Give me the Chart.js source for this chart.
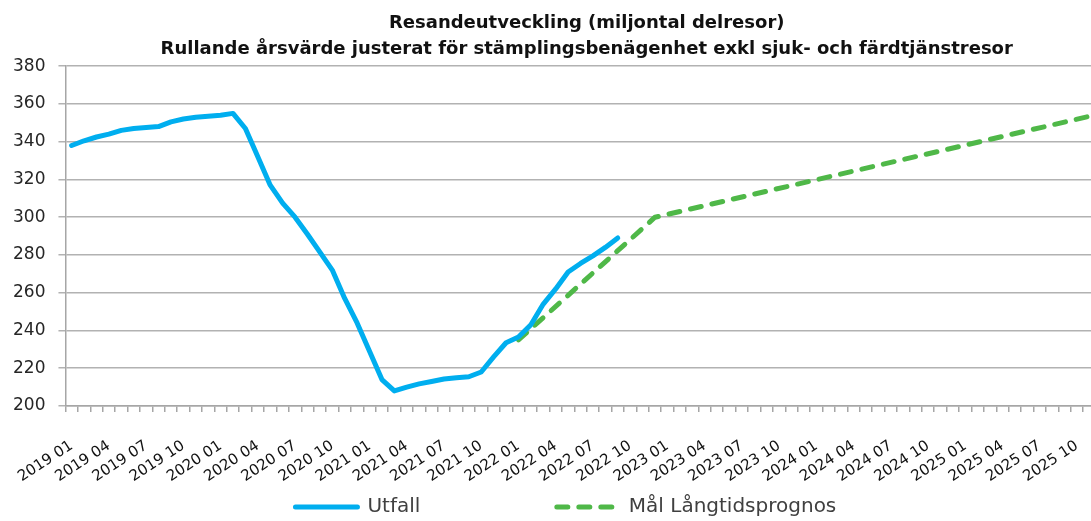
<!DOCTYPE html>
<html>
<head>
<meta charset="utf-8">
<script src="https://cdn.jsdelivr.net/npm/chart.js@4/dist/chart.umd.min.js"></script>
<style>
  html, body { margin: 0; padding: 0; background: #fff; overflow: hidden; }
  #wrap { width: 1091px; height: 521px; overflow: hidden; }
</style>
</head>
<body>
<div id="wrap"><canvas id="resChart" width="1166" height="521"></canvas></div>
<script>
// categories: every month from 2019 01 to 2025 12
var years = ['2019', '2020', '2021', '2022', '2023', '2024', '2025'];
var months = ['01', '02', '03', '04', '05', '06', '07', '08', '09', '10', '11', '12'];

// Utfall, 2019 01 .. 2022 09 (miljontal delresor)
var utfall = [
  338, 340.5, 342.5, 344, 346, 347, 347.5, 348, 350.5, 352, 353, 353.5,
  354, 355, 347, 332, 317, 307.5, 300, 291, 281.5, 272, 257, 244,
  229, 214, 208, 210, 211.7, 213, 214.3, 215, 215.5, 218, 226, 233.5,
  236.5, 243, 254, 262, 271, 275.5, 279.5, 284, 289
];

// Mål Långtidsprognos, key points only (straight segments between them)
var malPoints = { '2022 01': 235, '2022 12': 300, '2025 12': 355 };

var labels = [];
years.forEach(function (y) {
  months.forEach(function (m) { labels.push(y + ' ' + m); });
});

var malData = labels.map(function (l) {
  return malPoints[l] !== undefined ? malPoints[l] : null;
});
var utfallData = labels.map(function (l, i) {
  return i < utfall.length ? utfall[i] : null;
});

var blue = '#00aeef';
var green = '#4fb848';
var gridColor = '#b2b2b2';

// invisible legend entry, only used to push the real entries into place
function spacer(n) {
  return {
    text: new Array(n + 1).join(' '),
    fillStyle: 'rgba(0,0,0,0)',
    strokeStyle: 'rgba(0,0,0,0)',
    lineWidth: 0,
    pointStyle: 'line',
    hidden: false
  };
}

var ctx = document.getElementById('resChart').getContext('2d');
var chart = new Chart(ctx, {
  type: 'line',
  data: {
    labels: labels,
    datasets: [{
      label: 'Utfall',
      data: utfallData,
      borderColor: blue,
      backgroundColor: blue,
      borderWidth: 5,
      borderJoinStyle: 'round',
      borderCapStyle: 'round',
      pointRadius: 0,
      fill: false,
      tension: 0,
      spanGaps: false
    }, {
      label: 'Mål Långtidsprognos',
      data: malData,
      borderColor: green,
      backgroundColor: green,
      borderWidth: 5,
      borderDash: [11, 11],
      borderJoinStyle: 'round',
      borderCapStyle: 'round',
      pointRadius: 0,
      fill: false,
      tension: 0,
      spanGaps: true
    }]
  },
  options: {
    responsive: false,
    animation: false,
    layout: {
      padding: { left: 0, right: 58, top: 0, bottom: -6 }
    },
    plugins: {
      title: {
        display: true,
        fullSize: false,
        text: ['Resandeutveckling (miljontal delresor)',
               'Rullande årsvärde justerat för stämplingsbenägenhet exkl sjuk- och färdtjänstresor'],
        color: '#111',
        font: { family: 'DejaVu Sans', size: 18, weight: 'bold', lineHeight: 1.45 },
        padding: { top: 10, bottom: 4 }
      },
      legend: {
        display: true,
        position: 'bottom',
        align: 'start',
        labels: {
          usePointStyle: true,
          pointStyle: 'line',
          pointStyleWidth: 62,
          color: '#404040',
          font: { family: 'DejaVu Sans', size: 20 },
          padding: 10,
          generateLabels: function (chart) {
            var ds = chart.data.datasets;
            var items = ds.map(function (d, i) {
              return {
                text: d.label,
                fillStyle: d.borderColor,
                strokeStyle: d.borderColor,
                lineWidth: d.borderWidth,
                lineDash: d.borderDash || [],
                lineCap: 'round',
                pointStyle: 'line',
                fontColor: '#404040',
                hidden: false,
                datasetIndex: i
              };
            });
            return [spacer(32), items[0], spacer(7), items[1]];
          }
        },
        onClick: function () {}
      },
      tooltip: { enabled: false }
    },
    scales: {
      x: {
        offset: true,
        afterFit: function (scale) {
          // fixed band for the slanted labels, no extra side room
          scale.height = 81;
          scale.paddingLeft = 0;
          scale.paddingRight = 0;
        },
        grid: {
          offset: true,
          drawOnChartArea: false,
          drawTicks: true,
          tickLength: 6,
          color: '#a6a6a6',
          lineWidth: 1.5
        },
        border: { color: '#a6a6a6', width: 1.5 },
        ticks: {
          autoSkip: false,
          minRotation: 33,
          maxRotation: 33,
          padding: 25,
          color: '#111',
          font: { family: 'DejaVu Sans', size: 15 },
          callback: function (value, index) {
            return index % 3 === 0 ? labels[index] : '';
          }
        }
      },
      y: {
        min: 200,
        max: 380,
        grid: {
          color: gridColor,
          lineWidth: 1.5,
          tickLength: 7,
          drawTicks: true
        },
        border: { color: '#a6a6a6', width: 1.5 },
        ticks: {
          stepSize: 20,
          padding: 13,
          color: '#262626',
          font: { family: 'DejaVu Sans', size: 17 }
        }
      }
    }
  }
});
</script>
</body>
</html>
